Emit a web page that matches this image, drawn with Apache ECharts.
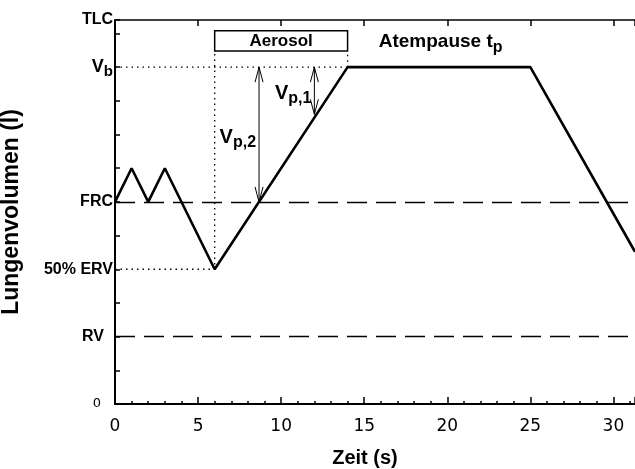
<!doctype html>
<html><head><meta charset="utf-8" />
<style>
  html,body,#app{margin:0;padding:0;width:635px;height:469px;background:#ffffff}
</style>
<script src="https://cdn.jsdelivr.net/npm/echarts@6/dist/echarts.min.js"></script>
</head><body><div id="app"></div>
<script>
// breathing manoeuvre: time (s) vs. lung volume (l)
const timeS = [0, 1, 2, 3, 6, 14, 25, 31.3];
const volume = [3, 3.5, 3, 3.5, 2, 5, 5, 2.26];

// named levels on the y axis
const levelValues = [0, 1, 2, 3, 5, 5.7];
const levelNames = ['0', 'RV', '50% ERV', 'FRC', 'Vb', 'TLC'];

// dashed reference levels
const dashedLevels = [3, 1];

// dotted guides ('-' breaks the line)
const dottedX = [0, 14, '-', 0, 6, 6, '-', 14, 14];
const dottedY = [5, 5, '-', 2, 2, 5.24, '-', 5, 5.24];

// aerosol bolus box
const aerosolX = [6, 14];
const aerosolY = [5.24, 5.54];

// double arrows: x, lower volume, upper volume, label
const arrowX = [8.67, 12];
const arrowLow = [3, 4.3];
const arrowHigh = [5, 5];
const arrowLabels = ['p,2', 'p,1'];

const pauseLabelPos = [19.6, 5.37];
const xMax = 31.3;

const bold = 'Liberation Sans, Arial, sans-serif';
const chart = echarts.init(document.getElementById('app'));

function levelLabel(v) {
  for (let i = 0; i < levelValues.length; i++) {
    if (Math.abs(levelValues[i] - v) < 1e-6) {
      const n = levelNames[i];
      if (n === '0') return '{z|0}';
      if (n === 'Vb') return '{v|V}{vs|b}';
      if (n === 'RV') return '{rv|RV}';
      return '{b|' + n + '}';
    }
  }
  return '';
}

const subRich = {
  v: { fontFamily: bold, fontWeight: 'bold', fontSize: 20, color: '#000' },
  s: { fontFamily: bold, fontWeight: 'bold', fontSize: 16, color: '#000', padding: [10, 0, 0, 0] }
};

const option = {
  backgroundColor: '#ffffff',
  animation: false,
  grid: { left: 115, right: 0, top: 20, bottom: 65, outerBoundsMode: 'none', containLabel: false },
  xAxis: [{
    type: 'value', min: 0, max: xMax, interval: 5,
    name: 'Zeit (s)', nameLocation: 'middle', nameGap: 44,
    nameTextStyle: { fontFamily: bold, fontWeight: 'bold', fontSize: 20, color: '#000', padding: [0, 20, 0, 0] },
    axisLine: { lineStyle: { color: '#000', width: 2 } },
    axisTick: { inside: true, length: 7, lineStyle: { color: '#000', width: 1.5 } },
    minorTick: { show: true, splitNumber: 5, length: 3, lineStyle: { color: '#000', width: 1.5 } },
    axisLabel: { fontFamily: 'DejaVu Sans', fontSize: 17, color: '#000', margin: 14, showMaxLabel: false,
      formatter: v => (v % 5 === 0 ? String(v) : '') },
    splitLine: { show: false }
  }, {
    type: 'value', position: 'top', min: 0, max: xMax, interval: 5,
    axisLine: { show: true, lineStyle: { color: '#000', width: 1.5 } },
    axisTick: { inside: true, length: 6, lineStyle: { color: '#000', width: 1.5 } },
    axisLabel: { show: false },
    splitLine: { show: false }
  }],
  yAxis: {
    type: 'value', min: 0, max: 5.7, interval: 0.5,
    name: 'Lungenvolumen (l)', nameLocation: 'middle', nameGap: 92, nameRotate: 90,
    nameTextStyle: { fontFamily: bold, fontWeight: 'bold', fontSize: 23, color: '#000' },
    axisLine: { show: true, lineStyle: { color: '#000', width: 2 } },
    axisTick: { inside: true, length: 5, lineStyle: { color: '#000', width: 1.5 } },
    axisLabel: {
      margin: 2, showMaxLabel: true, formatter: levelLabel,
      rich: {
        b: { fontFamily: bold, fontWeight: 'bold', fontSize: 16, color: '#000' },
        rv: { fontFamily: bold, fontWeight: 'bold', fontSize: 16, color: '#000', padding: [0, 9, 0, 0] },
        z: { fontFamily: 'DejaVu Sans', fontSize: 13, color: '#000', padding: [0, 12, 0, 0] },
        v: { fontFamily: bold, fontWeight: 'bold', fontSize: 18, color: '#000' },
        vs: { fontFamily: bold, fontWeight: 'bold', fontSize: 15, color: '#000', padding: [9, 0, 0, 0] }
      }
    },
    splitLine: { show: false }
  },
  series: [
    {
      name: 'dotted', type: 'line', symbol: 'none', connectNulls: false,
      data: dottedX.map((x, i) => [x, dottedY[i]]),
      lineStyle: { color: '#000', width: 1.3, type: [1.5, 4] },
      markLine: {
        silent: true, symbol: 'none', label: { show: false },
        lineStyle: { color: '#000', width: 1.3, type: [20, 9] },
        data: dashedLevels.map(v => ({ yAxis: v }))
      },
      markArea: {
        silent: true,
        itemStyle: { color: '#fff', borderColor: '#000', borderWidth: 1.5 },
        label: { show: true, position: 'inside', formatter: 'Aerosol',
          fontFamily: bold, fontWeight: 'bold', fontSize: 17, color: '#000' },
        data: [[{ xAxis: aerosolX[0], yAxis: aerosolY[0] }, { xAxis: aerosolX[1], yAxis: aerosolY[1] }]]
      }
    },
    {
      name: 'Lungenvolumen', type: 'line', symbol: 'none',
      data: timeS.map((t, i) => [t, volume[i]]),
      lineStyle: { color: '#000', width: 2.6 }, z: 3
    },
    {
      name: 'arrows', type: 'custom', z: 4,
      data: arrowX.map((x, i) => [x, arrowLow[i], arrowHigh[i], arrowLabels[i]]),
      renderItem: function (params, api) {
        const lo = api.coord([api.value(0), api.value(1)]);
        const hi = api.coord([api.value(0), api.value(2)]);
        const st = { stroke: '#000', lineWidth: 1, fill: null };
        const len = Math.min(15, (lo[1] - hi[1]) / 2.2);
        return {
          type: 'group',
          children: [
            { type: 'line', shape: { x1: lo[0], y1: lo[1], x2: hi[0], y2: hi[1] }, style: st },
            { type: 'polyline', shape: { points: [[hi[0] - 4, hi[1] + len], [hi[0], hi[1]], [hi[0] + 4, hi[1] + len]] }, style: st },
            { type: 'polyline', shape: { points: [[lo[0] - 4, lo[1] - len], [lo[0], lo[1]], [lo[0] + 4, lo[1] - len]] }, style: st },
            { type: 'text', x: hi[0] - 3, y: (lo[1] + hi[1]) / 2 + 3,
              style: { text: '{v|V}{s|' + api.value(3) + '}', rich: subRich, align: 'right', verticalAlign: 'middle' } }
          ]
        };
      }
    },
    {
      name: 'pause', type: 'scatter', symbolSize: 0,
      data: [pauseLabelPos],
      itemStyle: { opacity: 1 },
      label: {
        show: true, position: 'inside', formatter: '{a|Atempause t}{s|p}', color: '#000', textBorderWidth: 0,
        rich: {
          a: { fontFamily: bold, fontWeight: 'bold', fontSize: 19, color: '#000' },
          s: { fontFamily: bold, fontWeight: 'bold', fontSize: 16, color: '#000', padding: [10, 0, 0, 0] }
        }
      }
    }
  ]
};
chart.setOption(option);
</script></body></html>
